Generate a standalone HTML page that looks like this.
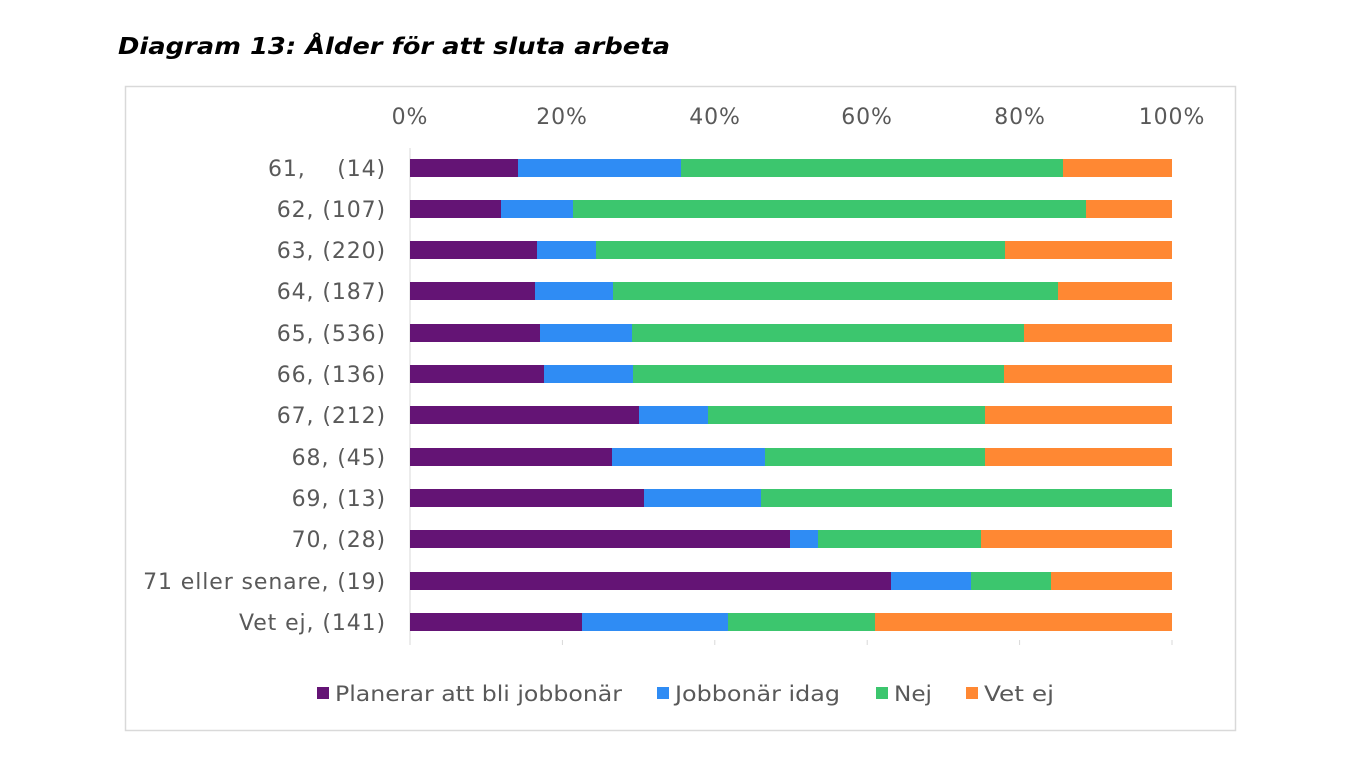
<!DOCTYPE html>
<html><head><meta charset="utf-8"><style>
body{margin:0;background:#fff;}
svg{display:block;font-family:"DejaVu Sans","Liberation Sans",sans-serif;}
</style></head><body>
<svg width="1368" height="780" xmlns="http://www.w3.org/2000/svg">
<text x="118" y="54" font-size="23" font-weight="bold" font-style="italic" fill="#000" textLength="552" lengthAdjust="spacingAndGlyphs">Diagram 13: Ålder för att sluta arbeta</text>
<rect x="125.5" y="86.5" width="1110" height="644" fill="#fff" stroke="#d9d9d9" stroke-width="1.5"/>
<g stroke="#d9d9d9" stroke-width="1">
<line x1="410" y1="148" x2="410" y2="645"/>
<line x1="562.4" y1="640" x2="562.4" y2="645"/>
<line x1="714.8" y1="640" x2="714.8" y2="645"/>
<line x1="867.2" y1="640" x2="867.2" y2="645"/>
<line x1="1019.6" y1="640" x2="1019.6" y2="645"/>
<line x1="1172" y1="640" x2="1172" y2="645"/>
</g>
<g font-size="22" fill="#595959" text-anchor="middle" letter-spacing="0.9">
<text x="410" y="124">0%</text><text x="562" y="124">20%</text><text x="715" y="124">40%</text><text x="867" y="124">60%</text><text x="1020" y="124">80%</text><text x="1172" y="124">100%</text>
</g>
<g font-size="22" fill="#595959" text-anchor="end" letter-spacing="0.9">
<text x="386" y="176">61,&#160;&#160;&#160;&#160;(14)</text>
<text x="386" y="217">62, (107)</text>
<text x="386" y="258">63, (220)</text>
<text x="386" y="299">64, (187)</text>
<text x="386" y="341">65, (536)</text>
<text x="386" y="382">66, (136)</text>
<text x="386" y="423">67, (212)</text>
<text x="386" y="465">68, (45)</text>
<text x="386" y="506">69, (13)</text>
<text x="386" y="547">70, (28)</text>
<text x="386" y="589">71 eller senare, (19)</text>
<text x="386" y="630">Vet ej, (141)</text>
</g>
<g font-size="21" fill="#595959">
<rect x="317" y="687" width="12" height="12" fill="#641475"/><text x="335" y="701" textLength="287" lengthAdjust="spacingAndGlyphs">Planerar att bli jobbonär</text>
<rect x="657" y="687" width="12" height="12" fill="#2f8cf4"/><text x="675" y="701" textLength="165" lengthAdjust="spacingAndGlyphs">Jobbonär idag</text>
<rect x="876" y="687" width="12" height="12" fill="#3cc66e"/><text x="894" y="701" textLength="38" lengthAdjust="spacingAndGlyphs">Nej</text>
<rect x="966" y="687" width="12" height="12" fill="#ff8833"/><text x="984" y="701" textLength="70" lengthAdjust="spacingAndGlyphs">Vet ej</text>
</g>
<g>
<rect x="410" y="159" width="108" height="18" fill="#641475"/><rect x="518" y="159" width="163" height="18" fill="#2f8cf4"/><rect x="681" y="159" width="382" height="18" fill="#3cc66e"/><rect x="1063" y="159" width="109" height="18" fill="#ff8833"/>
<rect x="410" y="200" width="91" height="18" fill="#641475"/><rect x="501" y="200" width="72" height="18" fill="#2f8cf4"/><rect x="573" y="200" width="513" height="18" fill="#3cc66e"/><rect x="1086" y="200" width="86" height="18" fill="#ff8833"/>
<rect x="410" y="241" width="127" height="18" fill="#641475"/><rect x="537" y="241" width="59" height="18" fill="#2f8cf4"/><rect x="596" y="241" width="409" height="18" fill="#3cc66e"/><rect x="1005" y="241" width="167" height="18" fill="#ff8833"/>
<rect x="410" y="282" width="125" height="18" fill="#641475"/><rect x="535" y="282" width="78" height="18" fill="#2f8cf4"/><rect x="613" y="282" width="445" height="18" fill="#3cc66e"/><rect x="1058" y="282" width="114" height="18" fill="#ff8833"/>
<rect x="410" y="324" width="130" height="18" fill="#641475"/><rect x="540" y="324" width="92" height="18" fill="#2f8cf4"/><rect x="632" y="324" width="392" height="18" fill="#3cc66e"/><rect x="1024" y="324" width="148" height="18" fill="#ff8833"/>
<rect x="410" y="365" width="134" height="18" fill="#641475"/><rect x="544" y="365" width="89" height="18" fill="#2f8cf4"/><rect x="633" y="365" width="371" height="18" fill="#3cc66e"/><rect x="1004" y="365" width="168" height="18" fill="#ff8833"/>
<rect x="410" y="406" width="229" height="18" fill="#641475"/><rect x="639" y="406" width="69" height="18" fill="#2f8cf4"/><rect x="708" y="406" width="277" height="18" fill="#3cc66e"/><rect x="985" y="406" width="187" height="18" fill="#ff8833"/>
<rect x="410" y="448" width="202" height="18" fill="#641475"/><rect x="612" y="448" width="153" height="18" fill="#2f8cf4"/><rect x="765" y="448" width="220" height="18" fill="#3cc66e"/><rect x="985" y="448" width="187" height="18" fill="#ff8833"/>
<rect x="410" y="489" width="234" height="18" fill="#641475"/><rect x="644" y="489" width="117" height="18" fill="#2f8cf4"/><rect x="761" y="489" width="411" height="18" fill="#3cc66e"/>
<rect x="410" y="530" width="380" height="18" fill="#641475"/><rect x="790" y="530" width="28" height="18" fill="#2f8cf4"/><rect x="818" y="530" width="163" height="18" fill="#3cc66e"/><rect x="981" y="530" width="191" height="18" fill="#ff8833"/>
<rect x="410" y="572" width="481" height="18" fill="#641475"/><rect x="891" y="572" width="80" height="18" fill="#2f8cf4"/><rect x="971" y="572" width="80" height="18" fill="#3cc66e"/><rect x="1051" y="572" width="121" height="18" fill="#ff8833"/>
<rect x="410" y="613" width="172" height="18" fill="#641475"/><rect x="582" y="613" width="146" height="18" fill="#2f8cf4"/><rect x="728" y="613" width="147" height="18" fill="#3cc66e"/><rect x="875" y="613" width="297" height="18" fill="#ff8833"/>
</g>
</svg>
</body></html>
